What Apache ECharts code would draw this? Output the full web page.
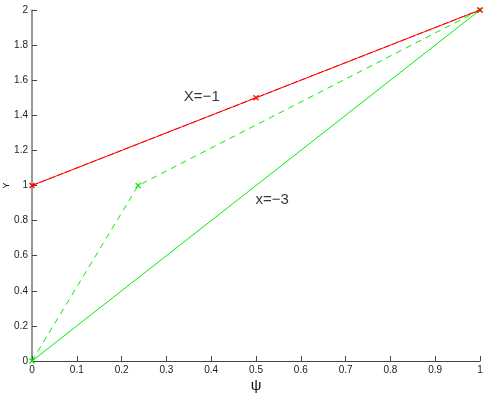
<!DOCTYPE html>
<html><head><meta charset="utf-8">
<script src="https://cdn.jsdelivr.net/npm/echarts@6/dist/echarts.min.js"></script>
<style>html,body{margin:0;padding:0;background:#fff}#c{width:488px;height:394px}</style>
</head><body><div id="c"></div>
<script>
const redSolid = [[0,1],[1,2]];
const redDashed = [[0,1],[0.5,1.5],[1,2]];
const greenDashed = [[0,0],[0.237,1],[1,2]];
const greenSolid = [[0,0],[1,2]];
const annotations = [
  {value:[0.379,1.504], text:'X=\u22121'},
  {value:[0.536,0.917], text:'x=\u22123'}
];
const xTicks = [0,0.1,0.2,0.3,0.4,0.5,0.6,0.7,0.8,0.9,1];
const yTicks = [0,0.2,0.4,0.6,0.8,1,1.2,1.4,1.6,1.8,2];

const RED='#ff0000', GREEN='#00ee00';
const X='path://M0,0L10,10M10,0L0,10';
function mk(c){return {color:c,borderColor:c,borderWidth:1.2};}
const chart = echarts.init(document.getElementById('c'));
chart.setOption({
  animation:false,
  grid:{left:32,right:8,top:10,bottom:33,containLabel:false,outerBoundsMode:'none'},
  textStyle:{fontFamily:'Liberation Sans, Arial, sans-serif'},
  xAxis:{type:'value',min:0,max:1,interval:0.1,name:'\u03c8',nameLocation:'middle',nameGap:17,nameMoveOverlap:false,
    nameTextStyle:{fontSize:15,color:'#111'},
    axisLine:{lineStyle:{color:'#444',width:1}},
    axisTick:{inside:true,length:5,lineStyle:{color:'#444'}},
    axisLabel:{fontSize:10,color:'#222',margin:4,formatter:v=>String(+v.toFixed(1))},
    splitLine:{show:false}},
  yAxis:{type:'value',min:0,max:2,interval:0.2,name:'Y',nameLocation:'middle',nameGap:21,nameRotate:90,nameMoveOverlap:false,
    nameTextStyle:{fontSize:9,color:'#111'},
    axisLine:{lineStyle:{color:'#777',width:1.5}},
    axisTick:{inside:true,length:5,lineStyle:{color:'#444'}},
    axisLabel:{fontSize:10,color:'#222',margin:4,formatter:v=>String(+v.toFixed(1))},
    splitLine:{show:false}},
  series:[
    {type:'line',data:redSolid,showSymbol:false,lineStyle:{color:RED,width:1},z:3},
    {type:'line',data:redDashed,symbol:X,symbolSize:5,itemStyle:mk(RED),lineStyle:{color:RED,width:1,type:[6,3]},z:3},
    {type:'line',data:greenSolid,showSymbol:false,lineStyle:{color:GREEN,width:1},z:2},
    {type:'line',data:greenDashed,symbol:X,symbolSize:5,itemStyle:mk(GREEN),lineStyle:{color:GREEN,width:1,type:[6,5]},z:2},
    {type:'scatter',data:annotations.map(a=>({value:a.value,label:{formatter:a.text}})),symbolSize:0,
      label:{show:true,position:'inside',fontSize:15,color:'#000'}}
  ]
});
</script></body></html>
